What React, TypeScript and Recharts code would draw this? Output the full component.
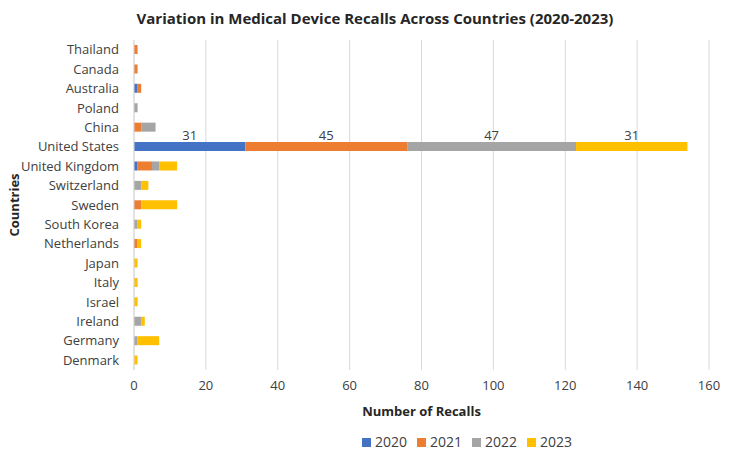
import { Bar, BarChart, CartesianGrid, LabelList, Legend, XAxis, YAxis } from 'recharts';

const countries = [
  'Thailand', 'Canada', 'Australia', 'Poland', 'China', 'United States', 'United Kingdom',
  'Switzerland', 'Sweden', 'South Korea', 'Netherlands', 'Japan', 'Italy', 'Israel',
  'Ireland', 'Germany', 'Denmark',
];
const recalls2020 = [0, 0, 1, 0, 0, 31, 1, 0, 0, 0, 0, 0, 0, 0, 0, 0, 0];
const recalls2021 = [1, 1, 1, 0, 2, 45, 4, 0, 2, 0, 1, 0, 0, 0, 0, 0, 0];
const recalls2022 = [0, 0, 0, 1, 4, 47, 2, 2, 0, 1, 0, 0, 0, 0, 2, 1, 0];
const recalls2023 = [0, 0, 0, 0, 0, 31, 5, 2, 10, 1, 1, 1, 1, 1, 1, 6, 1];
const xTicks = [0, 20, 40, 60, 80, 100, 120, 140, 160];
const labelled = 'United States';

const data = countries.map((c, i) => ({
  country: c,
  y2020: recalls2020[i],
  y2021: recalls2021[i],
  y2022: recalls2022[i],
  y2023: recalls2023[i],
  l2020: c === labelled ? recalls2020[i] : null,
  l2021: c === labelled ? recalls2021[i] : null,
  l2022: c === labelled ? recalls2022[i] : null,
  l2023: c === labelled ? recalls2023[i] : null,
}));

const font = 'Open Sans, sans-serif';
const textColor = '#404040';

function TopLabel(props: any) {
  const { x, y, width, value } = props;
  if (value === null || value === undefined) return null;
  return (
    <text x={Number(x) + Number(width) / 2} y={Number(y) - 2} textAnchor="middle" fontSize={13} fill="#404040" fontFamily={font}>
      {value}
    </text>
  );
}

const series = [
  { key: 'y2020', label: 'l2020', name: '2020', color: '#4472C4' },
  { key: 'y2021', label: 'l2021', name: '2021', color: '#ED7D31' },
  { key: 'y2022', label: 'l2022', name: '2022', color: '#A5A5A5' },
  { key: 'y2023', label: 'l2023', name: '2023', color: '#FFC000' },
];

export default function App() {
  return (
    <div style={{ position: 'absolute', left: 0, top: 0, width: 750, height: 457, background: '#fff', fontFamily: font }}>
      <div style={{ position: 'absolute', top: 8, width: 750, textAlign: 'center', fontWeight: 700, fontSize: 15, color: '#262626' }}>
        Variation in Medical Device Recalls Across Countries (2020-2023)
      </div>
      <BarChart
        width={750}
        height={457}
        data={data}
        layout="vertical"
        margin={{ top: 40, right: 41, left: 0, bottom: 3 }}
      >
        <CartesianGrid horizontal={false} stroke="#D9D9D9" />
        <XAxis
          type="number"
          domain={[0, 160]}
          ticks={xTicks}
          axisLine={false}
          tickLine={false}
          tickMargin={5}
          tick={{ fill: textColor, fontSize: 13, fontFamily: font }}
          height={60}
          label={{ value: 'Number of Recalls', position: 'insideBottom', offset: 14, fill: '#262626', fontSize: 13, fontWeight: 700, fontFamily: font }}
        />
        <YAxis
          type="category"
          dataKey="country"
          width={134}
          interval={0}
          axisLine={{ stroke: '#D9D9D9' }}
          tickLine={false}
          tickMargin={9}
          tick={{ fill: textColor, fontSize: 13, fontFamily: font }}
          label={{ value: 'Countries', angle: -90, position: 'insideLeft', offset: 14, fill: '#262626', fontSize: 13, fontWeight: 700, fontFamily: font, style: { textAnchor: 'middle' } }}
        />
        <Legend
          verticalAlign="bottom"
          height={24}
          iconType="square"
          iconSize={9}
          wrapperStyle={{ left: 235, width: 474 }}
          formatter={(v: string) => <span style={{ color: textColor, fontSize: 14 }}>{v}</span>}
        />
        {series.map((s) => (
          <Bar key={s.key} dataKey={s.key} name={s.name} stackId="a" fill={s.color} barSize={9} isAnimationActive={false}>
            <LabelList dataKey={s.label} content={TopLabel} />
          </Bar>
        ))}
      </BarChart>
    </div>
  );
}
